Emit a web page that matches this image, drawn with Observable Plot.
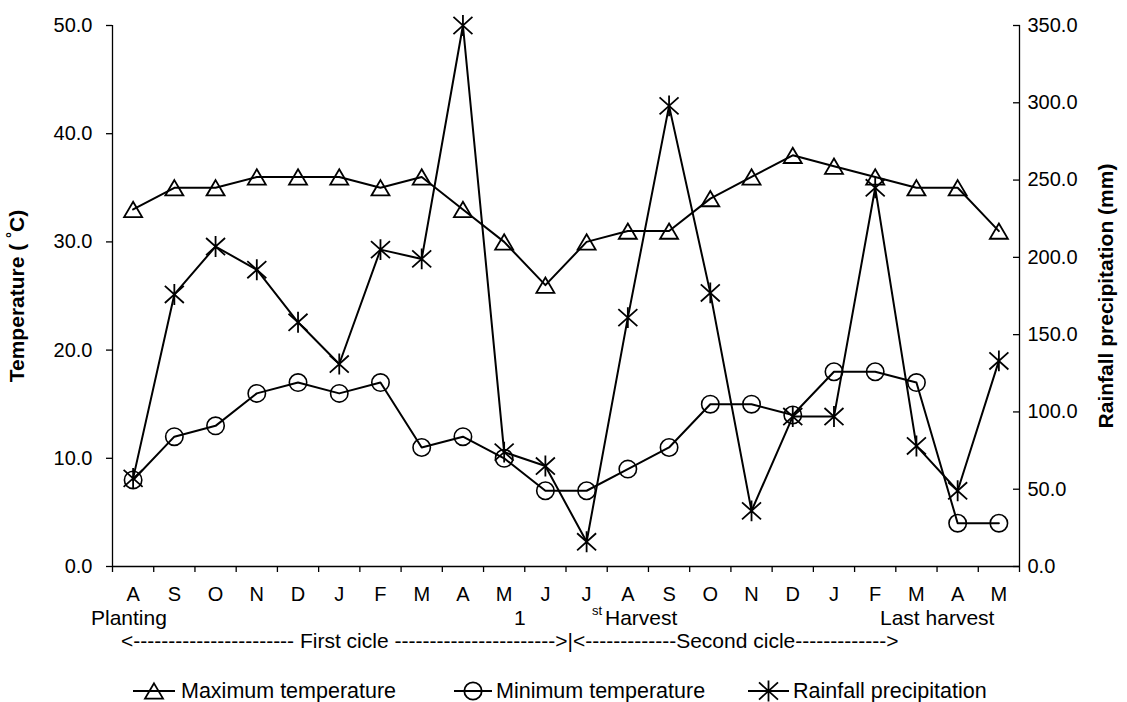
<!DOCTYPE html>
<html>
<head>
<meta charset="utf-8">
<script src="https://cdn.jsdelivr.net/npm/d3@7"></script>
<script src="https://cdn.jsdelivr.net/npm/@observablehq/plot@0.6"></script>
<style>
  html, body { margin: 0; padding: 0; background: white; }
  #wrap { position: relative; width: 1127px; height: 702px; background: white; }
  #wrap svg { position: absolute; left: 0; top: 0; }
</style>
</head>
<body>
<div id="wrap"></div>
<script>
// ---- Data ----
const months = ["A","S","O","N","D","J","F","M","A","M","J","J","A","S","O","N","D","J","F","M","A","M"];
const maxTemp = [33,35,35,36,36,36,35,36,33,30,26,30,31,31,34,36,38,37,36,35,35,31];
const minTemp = [8,12,13,16,17,16,17,11,12,10,7,7,9,11,15,15,14,18,18,17,4,4];
const rainfall = [57,176,207,192,158,131,205,199,350,74,65,16,161,298,177,36,97,97,245,78,49,133];
const tempTicks = [0,10,20,30,40,50];
const rainTicks = [0,50,100,150,200,250,300,350];
const seriesNames = ["Maximum temperature","Minimum temperature","Rainfall precipitation"];

const FONT = "'Liberation Sans', Arial, Helvetica, sans-serif";
const tempMax = tempTicks[tempTicks.length - 1];
const rainMax = rainTicks[rainTicks.length - 1];
const k = tempMax / rainMax; // rain -> temperature-axis units

const rows = months.map((m, i) => ({i, month: m, maxT: maxTemp[i], minT: minTemp[i], rain: rainfall[i] * k}));
const xDomain = [-0.5, months.length - 0.5];

// ---- custom symbols ----
const triangleSym = {draw(ctx, size) {
  const r = Math.sqrt(size / Math.PI);
  ctx.moveTo(0, -r * 0.85); ctx.lineTo(r, r * 0.85); ctx.lineTo(-r, r * 0.85); ctx.closePath();
}};
const starSym = {draw(ctx, size) {
  const r = Math.sqrt(size / Math.PI);
  ctx.moveTo(-r, -r * 0.9); ctx.lineTo(r, r * 0.9);
  ctx.moveTo(r, -r * 0.9); ctx.lineTo(-r, r * 0.9);
  ctx.moveTo(0, -r * 1.1); ctx.lineTo(0, r * 1.1);
}};

const chart = Plot.plot({
  width: 1127,
  height: 610,
  marginTop: 25,
  marginBottom: 44,
  marginLeft: 112,
  marginRight: 108,
  x: {domain: xDomain},
  y: {domain: [0, tempMax]},
  style: {fontFamily: FONT, fontSize: "20px", color: "black", background: "transparent", overflow: "visible"},
  marks: [
    Plot.axisY({ticks: tempTicks, tickFormat: d => d.toFixed(1), tickSize: 6, tickPadding: 14, label: null, strokeWidth: 1.3}),
    Plot.axisY(rainTicks.map(v => v * k), {anchor: "right", tickFormat: d => (d / k).toFixed(1), tickSize: -7, tickPadding: 15, label: null, strokeWidth: 1.3}),
    Plot.axisX({ticks: d3.range(months.length + 1).map(i => i - 0.5), tickSize: 6, tickFormat: () => "", label: null, strokeWidth: 1.3}),
    Plot.axisX({ticks: d3.range(months.length), tickSize: 0, tickPadding: 20, tickFormat: i => months[i], label: null}),
    Plot.ruleY([0], {stroke: "black", strokeWidth: 1.3}),
    Plot.ruleX(xDomain, {stroke: "black", strokeWidth: 1.3}),
    Plot.line(rows, {x: "i", y: "maxT", stroke: "black", strokeWidth: 2}),
    Plot.dot(rows, {x: "i", y: "maxT", symbol: triangleSym, r: 9, stroke: "black", fill: "none", strokeWidth: 1.8}),
    Plot.line(rows, {x: "i", y: "minT", stroke: "black", strokeWidth: 2}),
    Plot.dot(rows, {x: "i", y: "minT", symbol: "circle", r: 8.7, stroke: "black", fill: "none", strokeWidth: 1.6}),
    Plot.line(rows, {x: "i", y: "rain", stroke: "black", strokeWidth: 2}),
    Plot.dot(rows, {x: "i", y: "rain", symbol: starSym, r: 9.5, stroke: "black", fill: "none", strokeWidth: 1.8})
  ]
});
document.getElementById("wrap").appendChild(chart);

// ---- overlay: axis titles, annotations, legend ----
const ov = d3.select("#wrap").append("svg")
  .attr("width", 1127).attr("height", 702)
  .style("pointer-events", "none")
  .attr("font-family", FONT).attr("fill", "black");

// left axis title
const lt = ov.append("text").attr("transform", "translate(24,296) rotate(-90)")
  .attr("text-anchor", "middle").attr("font-weight", "bold").attr("font-size", 21);
lt.append("tspan").text("Temperature ( ");
lt.append("tspan").attr("dy", -7).attr("font-size", 15).text("°");
lt.append("tspan").attr("dy", 7).text("C)");

// right axis title
ov.append("text").attr("transform", "translate(1113,296) rotate(-90)")
  .attr("text-anchor", "middle").attr("font-weight", "bold").attr("font-size", 21)
  .text("Rainfall precipitation (mm)");

// annotation row 1
ov.append("text").attr("x", 91).attr("y", 625).attr("font-size", 21).text("Planting");
ov.append("text").attr("x", 514).attr("y", 625).attr("font-size", 21).text("1");
ov.append("text").attr("x", 592).attr("y", 615).attr("font-size", 13).text("st");
ov.append("text").attr("x", 605).attr("y", 625).attr("font-size", 21).text("Harvest");
ov.append("text").attr("x", 880).attr("y", 625).attr("font-size", 21).text("Last harvest");

// annotation row 2
ov.append("text").attr("x", 121).attr("y", 648).attr("font-size", 21).attr("xml:space", "preserve")
  .style("white-space", "pre")
  .text("<----------------------- First cicle ----------------------->|<-------------Second cicle------------->");

// legend
const legY = 691;
const legItems = [
  {x0: 133, x1: 175, tx: 181, sym: triangleSym, r: 9},
  {x0: 454, x1: 492, tx: 496, sym: d3.symbolCircle, r: 8.7},
  {x0: 748, x1: 789, tx: 793, sym: starSym, r: 9.5}
];
legItems.forEach((it, j) => {
  ov.append("line").attr("x1", it.x0).attr("x2", it.x1).attr("y1", legY).attr("y2", legY)
    .attr("stroke", "black").attr("stroke-width", 2);
  ov.append("path").attr("d", d3.symbol(it.sym, it.r * it.r * Math.PI)())
    .attr("transform", `translate(${(it.x0 + it.x1) / 2},${legY})`)
    .attr("fill", "none").attr("stroke", "black").attr("stroke-width", 1.8);
  ov.append("text").attr("x", it.tx).attr("y", 698).attr("font-size", 21.5).text(seriesNames[j]);
});
</script>
</body>
</html>
